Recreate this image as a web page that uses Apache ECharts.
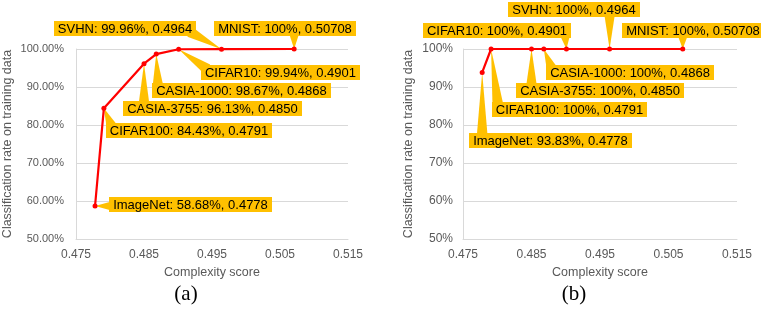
<!DOCTYPE html>
<html><head><meta charset="utf-8">
<script src="https://cdn.jsdelivr.net/npm/echarts@6/dist/echarts.min.js"></script>
<style>html,body{margin:0;padding:0;background:#fff}#c{width:761px;height:313px}</style>
</head><body><div id="c"></div>
<script>
// ---- data ----
const datasets  = ['ImageNet','CIFAR100','CASIA-3755','CASIA-1000','CIFAR10','SVHN','MNIST'];
const scoreText = ['0.4778','0.4791','0.4850','0.4868','0.4901','0.4964','0.50708'];
const rateTextA = ['58.68','84.43','96.13','98.67','99.94','99.96','100'];
const rateTextB = ['93.83','100','100','100','100','100','100'];
const xTickLabels = ['0.475','0.485','0.495','0.505','0.515'];
const panelCaptions = ['(a)','(b)'];

// ---- layout (label callout offsets in px relative to their point) ----
const calloutA = [[95,-2],[85,22],[68,45],[85,36],[102,23],[-97,-21],[-9,-21]];
const calloutB = [[68,68],[78,60],[68,41],[86,23],[-69,-19],[-36,-40],[10,-19]];

const scores = scoreText.map(Number);
const ratesA = rateTextA.map(Number);
const ratesB = rateTextB.map(Number);
const xMin = Number(xTickLabels[0]), xMax = Number(xTickLabels[xTickLabels.length-1]);

const FONT = "'Liberation Sans', Arial, sans-serif";
const measureCtx = document.createElement('canvas').getContext('2d');
measureCtx.font = "13px " + FONT;
const textW = t => measureCtx.measureText(t).width;

function lineData(rates){ return scores.map((s,i)=>[s, rates[i]]); }
function calloutData(rates){ return scores.map((s,i)=>[s, rates[i], i]); }

function makeRender(rateText, offsets){
  return function(params, api){
    const i = api.value(2);
    const p = api.coord([api.value(0), api.value(1)]);
    const text = datasets[i] + ': ' + rateText[i] + '%, ' + scoreText[i];
    const w = Math.round(textW(text) + 8), h = 15;
    const cx = p[0] + offsets[i][0], cy = p[1] + offsets[i][1];
    const x0 = Math.round(cx - w/2), y0 = Math.round(cy - h/2);
    const x1 = x0 + w, y1 = y0 + h;
    const nx = Math.min(Math.max(p[0], x0+6), x1-6);
    const ny = Math.min(Math.max(p[1], y0+4), y1-4);
    const dx = p[0]-nx, dy = p[1]-ny, len = Math.hypot(dx,dy) || 1;
    const ux = -dy/len, uy = dx/len, hw = 5.5;
    return {
      type:'group',
      children:[
        {type:'polygon', shape:{points:[[p[0],p[1]],[nx+ux*hw, ny+uy*hw],[nx-ux*hw, ny-uy*hw]]}, style:{fill:'#FFC000'}},
        {type:'rect', shape:{x:x0, y:y0, width:w, height:h}, style:{fill:'#FFC000'}},
        {type:'text', x:x0 + w/2, y:y0 + h/2 + 0.5, style:{text:text, fill:'#000', font:'13px ' + FONT, align:'center', verticalAlign:'middle'}}
      ]
    };
  };
}

const gridLine = '#d9d9d9', txt = '#595959';
function xAxis(idx){
  return {
    gridIndex: idx, type:'value', min:xMin, max:xMax, interval:0.005,
    name:'Complexity score', nameLocation:'middle', nameGap:27,
    nameTextStyle:{color:txt, fontSize:12.5, fontFamily:FONT},
    axisLine:{show:true, lineStyle:{color:gridLine, width:1}},
    axisTick:{show:false}, splitLine:{show:false},
    axisLabel:{color:txt, fontSize:12, fontFamily:FONT, margin:10,
      formatter: v => { const t = v.toFixed(3); return xTickLabels.includes(t) ? t : ''; }}
  };
}
function yAxis(idx, fmt, fs, gap, margin){
  return {
    gridIndex: idx, type:'value', min:50, max:100, interval:10,
    name:'Classification rate on training data', nameLocation:'middle', nameGap:gap,
    nameTextStyle:{color:txt, fontSize:12.5, fontFamily:FONT},
    axisLine:{show:true, lineStyle:{color:gridLine, width:1}},
    axisTick:{show:false},
    splitLine:{show:true, lineStyle:{color:gridLine, width:1}},
    axisLabel:{color:txt, fontSize:fs, fontFamily:FONT, margin:margin, formatter:fmt}
  };
}
function lineSeries(idx, rates){
  return {type:'line', xAxisIndex:idx, yAxisIndex:idx, data:lineData(rates), z:5,
    symbol:'circle', symbolSize:5, showSymbol:true,
    lineStyle:{color:'#FF0000', width:2.2}, itemStyle:{color:'#FF0000'}, animation:false, silent:true};
}
function calloutSeries(idx, rates, rateText, offsets){
  return {type:'custom', xAxisIndex:idx, yAxisIndex:idx, data:calloutData(rates), z:2, clip:false,
    renderItem: makeRender(rateText, offsets), animation:false, silent:true};
}

const chart = echarts.init(document.getElementById('c'), null, {renderer:'canvas'});
chart.setOption({
  animation:false,
  backgroundColor:'#fff',
  grid:[
    {left:74, top:49, width:274, height:190},
    {left:463, top:49, width:274, height:190}
  ],
  xAxis:[xAxis(0), xAxis(1)],
  yAxis:[
    yAxis(0, v => v.toFixed(2) + '%', 11, 62, 12),
    yAxis(1, v => v + '%', 12, 48, 10)
  ],
  series:[
    calloutSeries(0, ratesA, rateTextA, calloutA),
    calloutSeries(1, ratesB, rateTextB, calloutB),
    lineSeries(0, ratesA),
    lineSeries(1, ratesB)
  ],
  graphic:[
    {type:'text', x:186, y:294, style:{text:panelCaptions[0], font:"21px 'Liberation Serif', 'Times New Roman', serif", fill:'#000', align:'center', verticalAlign:'middle'}},
    {type:'text', x:574, y:294, style:{text:panelCaptions[1], font:"21px 'Liberation Serif', 'Times New Roman', serif", fill:'#000', align:'center', verticalAlign:'middle'}}
  ]
});
</script></body></html>
